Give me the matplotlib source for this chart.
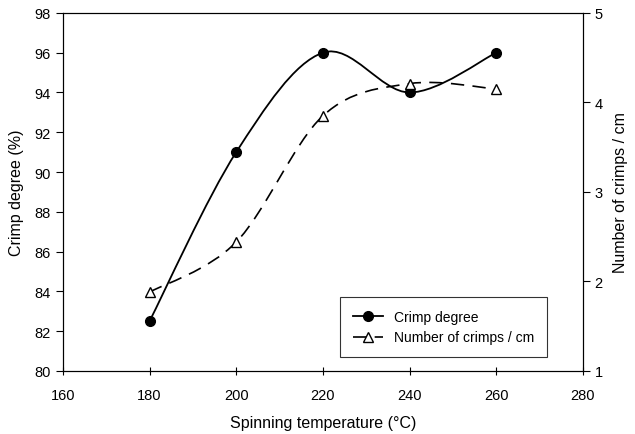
import numpy as np
import matplotlib.pyplot as plt
from matplotlib.path import Path
from matplotlib.patches import PathPatch
from matplotlib.lines import Line2D

plt.rcParams['font.family'] = ['Liberation Sans', 'DejaVu Sans']

temperature = [180, 200, 220, 240, 260]
crimp_degree = [82.5, 91.0, 96.0, 94.0, 96.0]
crimps_per_cm = [1.88, 2.44, 3.85, 4.21, 4.15]


def smooth_path(x, y):
    # Catmull-Rom curve through the points, drawn as cubic bezier segments
    p = np.column_stack([x, y]).astype(float)
    p = np.vstack([p[0], p, p[-1]])
    verts = [p[1]]
    codes = [Path.MOVETO]
    for i in range(1, len(p) - 2):
        c1 = p[i] + (p[i + 1] - p[i - 1]) / 6
        c2 = p[i + 1] - (p[i + 2] - p[i]) / 6
        verts += [c1, c2, p[i + 1]]
        codes += [Path.CURVE4] * 3
    return Path(verts, codes)


fig = plt.figure(figsize=(6.35, 4.35), dpi=100)
ax = fig.add_axes([0.099, 0.145, 0.819, 0.823])
ax2 = ax.twinx()

ax.add_patch(PathPatch(smooth_path(temperature, crimp_degree), fill=False,
                       edgecolor='black', lw=1.3))
ax.plot(temperature, crimp_degree, 'o', color='black', ms=7, zorder=3)

ax2.add_patch(PathPatch(smooth_path(temperature, crimps_per_cm), fill=False,
                        edgecolor='black', lw=1.2, linestyle=(0, (8, 5))))
ax2.plot(temperature, crimps_per_cm, '^', mfc='white', mec='black', ms=7,
         mew=1.0, zorder=3)

ax.set_xlim(160, 280)
ax.set_ylim(80, 98)
ax.set_xticks(range(160, 281, 20))
ax.set_yticks(range(80, 99, 2))
ax2.set_ylim(1, 5)
ax2.set_yticks([1, 2, 3, 4, 5])

ax.tick_params(axis='y', direction='out', length=5, labelsize=10.5)
ax.tick_params(axis='x', direction='inout', length=6, labelsize=10.5, pad=9)
ax2.tick_params(axis='y', direction='out', length=5, labelsize=10.5)

ax.set_xlabel('Spinning temperature (°C)', fontsize=11.5)
ax.set_ylabel('Crimp degree (%)', fontsize=11.5)
ax2.set_ylabel('Number of crimps / cm', fontsize=11.5)
ax.xaxis.set_label_coords(0.5, -0.123)
ax.yaxis.set_label_coords(-0.075, 0.5)
ax2.yaxis.set_label_coords(1.058, 0.5)

handles = [
    Line2D([], [], color='black', lw=1.3, marker='o', ms=7),
    Line2D([], [], color='black', lw=1.2, linestyle=(0, (8, 5)), marker='^',
           mfc='white', mec='black', ms=7),
]
leg = ax.legend(handles, ['Crimp degree', 'Number of crimps / cm'],
                loc='lower left', bbox_to_anchor=(0.533, 0.039), fontsize=10,
                frameon=True, fancybox=False, edgecolor='black',
                handlelength=2.2, borderpad=0.9, borderaxespad=0)
leg.get_frame().set_linewidth(0.8)

fig.savefig('out.png', dpi=100)
